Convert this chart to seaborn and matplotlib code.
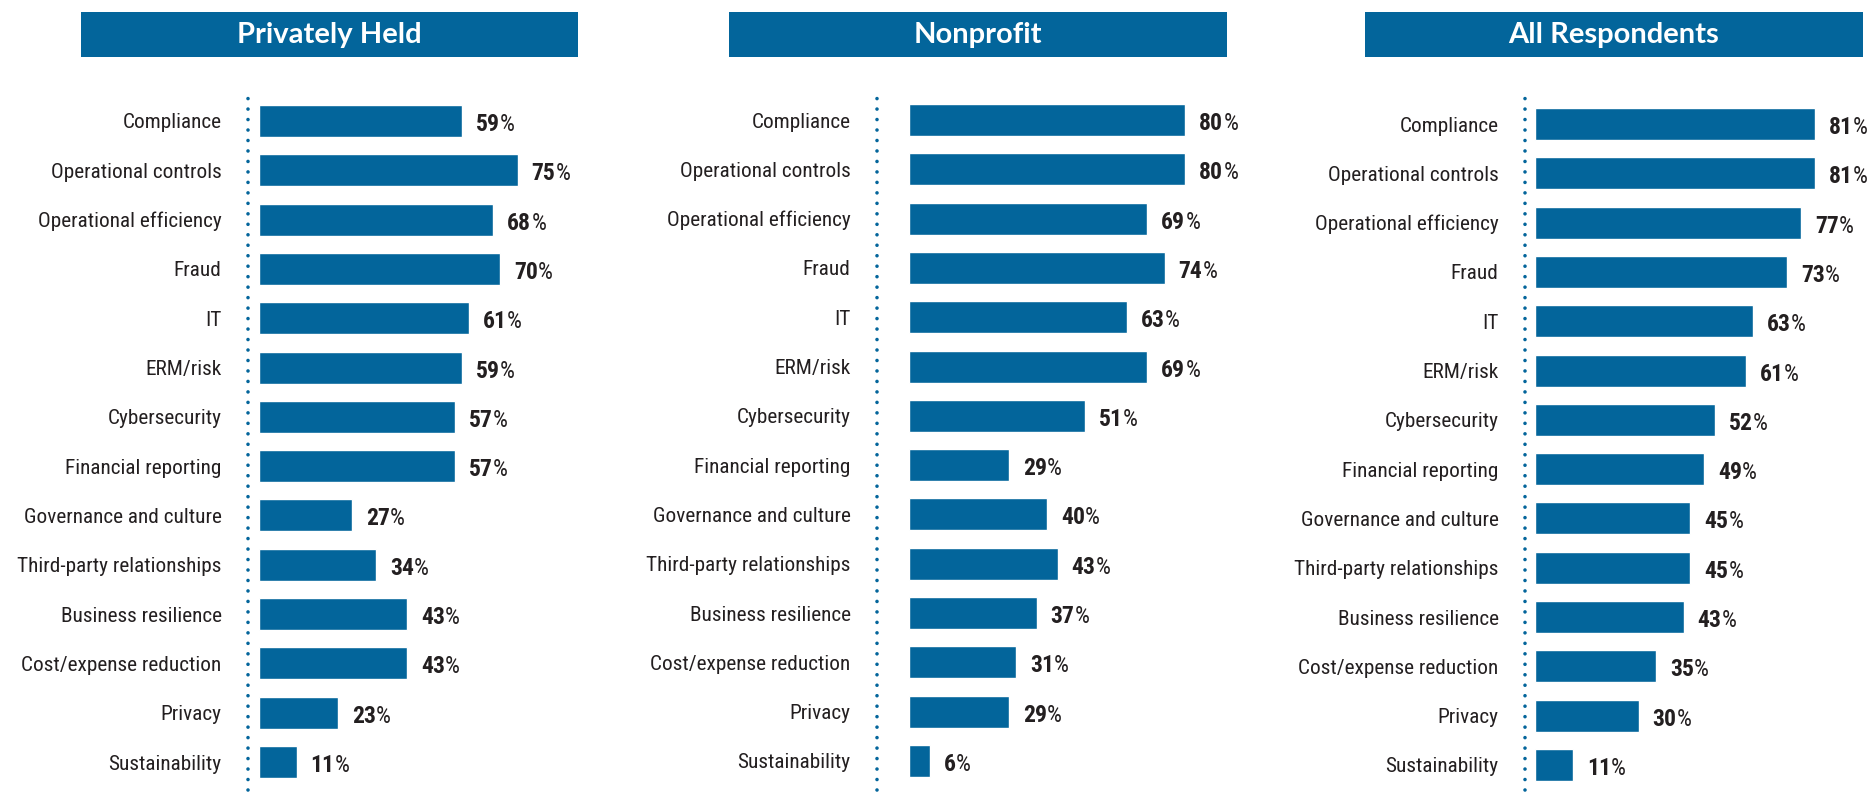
import matplotlib
matplotlib.use("Agg")
import matplotlib.pyplot as plt
from matplotlib import font_manager as fm
from matplotlib.patches import Rectangle
import pandas as pd
import seaborn as sns

# ---- data -------------------------------------------------------------
categories = [
    "Compliance", "Operational controls", "Operational efficiency", "Fraud",
    "IT", "ERM/risk", "Cybersecurity", "Financial reporting",
    "Governance and culture", "Third-party relationships",
    "Business resilience", "Cost/expense reduction", "Privacy", "Sustainability",
]
privately_held = [59, 75, 68, 70, 61, 59, 57, 57, 27, 34, 43, 43, 23, 11]
nonprofit = [80, 80, 69, 74, 63, 69, 51, 29, 40, 43, 37, 31, 29, 6]
all_respondents = [81, 81, 77, 73, 63, 61, 52, 49, 45, 45, 43, 35, 30, 11]
panel_titles = ["Privately Held", "Nonprofit", "All Respondents"]
panel_values = [privately_held, nonprofit, all_respondents]

# ---- style ------------------------------------------------------------
BLUE = "#03659B"
INK = "#231F20"
W, H = 1872, 796

sns.set_theme(style="white")

names = {f.name for f in fm.fontManager.ttflist}


def pick(cands, default):
    for c in cands:
        if c in names:
            return c
    return default


NARROW = pick(["Roboto Condensed", "Liberation Sans Narrow", "Open Sans Condensed",
               "Noto Sans Condensed", "DejaVu Sans Condensed"], None)
STRETCH = "normal"
if NARROW is None:
    condensed = [f for f in fm.fontManager.ttflist
                 if "condensed" in str(f.stretch).lower()]
    if condensed:
        NARROW = condensed[0].name
        STRETCH = "condensed"
    else:
        NARROW = pick(["Roboto", "Liberation Sans", "DejaVu Sans"], "DejaVu Sans")
TITLE_FONT = pick(["Lato", "Open Sans", "Roboto"], "DejaVu Sans")

plt.rcParams["font.family"] = [NARROW, "DejaVu Sans"]

fig = plt.figure(figsize=(W / 100, H / 100), dpi=100)
renderer = fig.canvas.get_renderer()


def fit_size(text, family, weight, target_px, start=20.0):
    t = fig.text(0, 0, text, fontsize=start, family=family, weight=weight,
                 fontstretch=STRETCH)
    w = t.get_window_extent(renderer=renderer).width
    t.remove()
    return start * target_px / w


label_fs = min(fit_size("Operational controls", NARROW, "normal", 170), 17)
value_fs = min(fit_size("81%", NARROW, "bold", 40), 17)

# ---- panel geometry (pixels) -------------------------------------------
PX_PER_PCT = 3.455
TOP, BOTTOM = 98, 790
panels = [
    dict(dotted=248, zero=258.5, c0=121, c13=762, box=(81, 578)),
    dict(dotted=877, zero=909, c0=120, c13=761, box=(729, 1227)),
    dict(dotted=1525, zero=1535, c0=124, c13=765, box=(1365, 1863)),
]

for title, vals, geo in zip(panel_titles, panel_values, panels):
    left = geo["dotted"]
    right = geo["zero"] + 100 * PX_PER_PCT
    ax = fig.add_axes([left / W, 1 - BOTTOM / H, (right - left) / W, (BOTTOM - TOP) / H])

    df = pd.DataFrame({"area": categories, "pct": vals})
    sns.barplot(data=df, x="pct", y="area", order=categories, color=BLUE,
                saturation=1, width=0.65, ax=ax, orient="h")

    sp = (geo["c13"] - geo["c0"]) / 13
    ax.set_ylim((BOTTOM - geo["c0"]) / sp, (TOP - geo["c0"]) / sp)
    x0 = (left - geo["zero"]) / PX_PER_PCT
    ax.set_xlim(x0, 100)

    for s in ax.spines.values():
        s.set_visible(False)
    ax.set_xticks([])
    ax.set_xlabel("")
    ax.set_ylabel("")
    ax.tick_params(axis="y", length=0, pad=19, labelsize=label_fs, labelcolor=INK)
    for lab in ax.get_yticklabels():
        lab.set_fontfamily([NARROW, "DejaVu Sans"])
        lab.set_fontstretch(STRETCH)

    # dotted guide line at the left of the bars
    ax.axvline(x0, color=BLUE, lw=2.6, linestyle=(0, (0.001, 2.9)),
               dash_capstyle="round", clip_on=False)

    # value labels: bold figure followed by a regular percent sign
    for k, v in enumerate(vals):
        num = ax.annotate(f"{v}", xy=(v, k), xytext=(10, -2.5), textcoords="offset points",
                          ha="left", va="center", fontsize=value_fs, fontweight="bold",
                          color=INK, family=[NARROW, "DejaVu Sans"], fontstretch=STRETCH)
        ax.annotate("%", xy=(1, 0), xycoords=num, ha="left", va="bottom",
                    fontsize=value_fs, color=INK, family=[NARROW, "DejaVu Sans"],
                    fontstretch=STRETCH)

    # header banner
    bx0, bx1 = geo["box"]
    fig.add_artist(Rectangle((bx0 / W, 1 - 57 / H), (bx1 - bx0) / W, 45 / H,
                             transform=fig.transFigure, facecolor=BLUE,
                             edgecolor="none"))
    fig.text((bx0 + bx1) / 2 / W, 1 - 35 / H, title, ha="center", va="center",
             color="white", fontsize=21, fontweight="bold", family=TITLE_FONT)

fig.savefig("out.png", dpi=100)
